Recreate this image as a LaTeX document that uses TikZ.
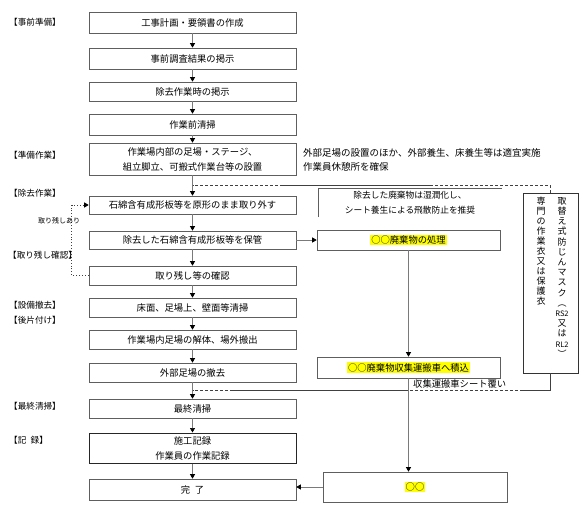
\documentclass[tikz,border=0pt]{standalone}
\usepackage{fontspec}
\setmainfont{Noto Sans CJK JP}
\usepackage{tikz}
\usetikzlibrary{arrows.meta,positioning,calc}
\definecolor{boxline}{HTML}{5E5E5E}
\definecolor{connline}{HTML}{7A7A7A}
\definecolor{marker}{HTML}{FFFF00}
\newcommand{\marktext}[1]{{\setlength{\fboxsep}{1pt}\colorbox{marker}{#1}}}
\tikzset{
  stepbox/.style={
    rectangle, draw=boxline, line width=0.6pt,
    minimum width=207pt, minimum height=#1,
    font=\fontsize{9.3}{15}\selectfont, align=center,
    inner sep=1pt
  },
  stepbox/.default=19pt,
  wastebox/.style={
    rectangle, draw=boxline, line width=0.6pt,
    minimum width=183pt, minimum height=#1,
    font=\fontsize{9.3}{12}\selectfont, inner sep=1pt
  },
  wastebox/.default=21pt,
  phase/.style={anchor=west, font=\fontsize{8.6}{10}\selectfont, inner sep=0pt},
  flowarrow/.style={
    -{Triangle[length=4.5pt,width=5pt,color=black]}, line width=0.7pt, color=connline
  },
  dashline/.style={dash pattern=on 3pt off 2pt, line width=0.7pt, color=black!75},
  loopline/.style={
    -{Triangle[length=4.5pt,width=5pt,color=black]}, dotted, line width=0.9pt, color=black!75
  },
  vcol/.style={anchor=north, align=center, inner sep=0pt, font=\fontsize{9}{#1}\selectfont},
  vcol/.default=10pt,
}
\begin{document}
\begin{tikzpicture}[x=1pt, y=-1pt]
  \useasboundingbox (0,0) rectangle (586,516);
  % main flow
  \node[stepbox=21pt] (s1) at (192.5,22.5) {工事計画・要領書の作成};
  \node[stepbox=21pt] (s2) at (192.5,58.5) {事前調査結果の掲示};
  \node[stepbox] (s3) at (192.5,91.5) {除去作業時の掲示};
  \node[stepbox=21pt] (s4) at (192.5,124.5) {作業前清掃};
  \node[stepbox=32pt] (s5) at (192.5,159) {作業場内部の足場・ステージ、\\組立脚立、可搬式作業台等の設置};
  \node[stepbox=18pt] (s6) at (192.5,205) {石綿含有成形板等を原形のまま取り外す};
  \node[stepbox=18pt] (s7) at (192.5,240) {除去した石綿含有成形板等を保管};
  \node[stepbox] (s8) at (192.5,275.5) {取り残し等の確認};
  \node[stepbox] (s9) at (192.5,307.5) {床面、足場上、壁面等清掃};
  \node[stepbox] (s10) at (192.5,339.5) {作業場内足場の解体、場外搬出};
  \node[stepbox] (s11) at (192.5,372.5) {外部足場の撤去};
  \node[stepbox] (s12) at (192.5,408.5) {最終清掃};
  \node[stepbox=30pt, draw=black!85, line width=1pt] (s13) at (192.5,448) {施工記録\\作業員の作業記録};
  \node[stepbox=21pt] (s14) at (192.5,489.5) {完\hspace{0.5em}了};
  \foreach \a/\b in {s1/s2,s2/s3,s3/s4,s4/s5,s5/s6,s6/s7,s7/s8,s8/s9,s9/s10,s10/s11,s11/s12,s12/s13,s13/s14}
    { \draw[flowarrow] (\a) -- (\b); }

  % phase labels
  \node[phase] (p1) at (9,22) {【事前準備】};
  \node[phase] (p2) at (9,155) {【準備作業】};
  \node[phase] (p3) at (9,193) {【除去作業】};
  \node[phase] (p4) at (8,255) {【取り残し確認】};
  \node[phase] (p5) at (9,305) {【設備撤去】};
  \node[phase] (p6) at (9,320) {【後片付け】};
  \node[phase] (p7) at (9,406) {【最終清掃】};
  \node[phase] (p8) at (9,440) {【記\hspace{0.5em}録】};

  % leftover loop
  \draw[loopline] (s8.west) -- ++(-17,0) |- (s6.west);
  \node[font=\fontsize{7}{8}\selectfont, inner sep=0pt] (leftover) at (59,221) {取り残しあり};

  % notes on the right
  \node[anchor=west, align=left, inner sep=0pt, font=\fontsize{9.5}{14.5}\selectfont] (s5note) at (303,160)
    {外部足場の設置のほか、外部養生、床養生等は適宜実施\\作業員休憩所を確保};
  \node[minimum width=184pt, minimum height=29pt, inner sep=0pt, align=center,
        font=\fontsize{8.7}{15}\selectfont] (wetnote) at (410,202.5)
    {除去した廃棄物は湿潤化し、\\シート養生による飛散防止を推奨};
  \draw[boxline, line width=0.6pt] (wetnote.south west) |- (wetnote.north east);

  % waste stream
  \node[wastebox=20pt] (shori) at (408.5,240) {\marktext{○○廃棄物の処理}};
  \node[wastebox] (tsumi) at (408.5,367.5) {\marktext{○○廃棄物収集運搬車へ積込}};
  \node[wastebox=30pt, minimum width=184pt] (maru) at (415,487) {\marktext{○○}};
  \draw[flowarrow] (s7.east) -- (shori.west);
  \draw[flowarrow] (shori.south) -- (tsumi.north);
  \draw[flowarrow] (tsumi.south) -- (tsumi.south |- maru.north);
  \draw[flowarrow] (maru.west) -- (maru.west -| s14.east);
  \node[anchor=west, inner sep=0pt, font=\fontsize{9.3}{10}\selectfont] (cover) at (413,384) {収集運搬車シート覆い};

  % protective equipment
  \node[rectangle, draw=black!80, line width=0.8pt, minimum width=55pt, minimum height=180pt] (ppe) at (550.5,283) {};
  \node[vcol=10.2pt] (maskcol) at (562,197)
    {取\\替\\え\\式\\防\\じ\\ん\\マ\\ス\\ク\\︵\\{\fontsize{7.5}{8}\selectfont RS2}\\又\\は\\{\fontsize{7.5}{8}\selectfont RL2}\\︶};
  \node[vcol] (wearcol) at (541,197) {専\\門\\の\\作\\業\\衣\\又\\は\\保\\護\\衣};
  \draw[dashline] (ppe.north) |- ($(s5.south)!0.5!(s6.north)$);
  \draw[dashline] (ppe.south) |- ($(s11.south)!0.5!(s12.north)$);
  \draw[line width=0.7pt, color=black!75] (280,185.5) -- (433,185.5);
  \draw[line width=0.7pt, color=black!75] (233,390.5) -- (407,390.5);
  \draw[line width=0.7pt, color=black!75] (ppe.south) |- (520,390.5);
\end{tikzpicture}
\end{document}
